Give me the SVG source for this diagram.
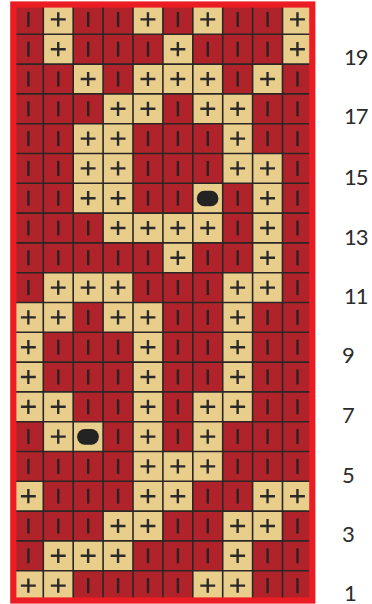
<svg xmlns="http://www.w3.org/2000/svg" xmlns:xlink="http://www.w3.org/1999/xlink" width="372" height="604" viewBox="0 0 372 604">
<style>
.lbl{font-family:Lato,"Open Sans","Liberation Sans",sans-serif;font-size:22px;fill:#2b2b2b;letter-spacing:-1px}
.grid{stroke:#2a2626;stroke-width:1.6;fill:none}
</style>
<defs>
<g id="K"><rect width="29.9" height="29.8" fill="#b0232a"/><rect x="13.8" y="7.4" width="2.4" height="15" fill="#2a2222"/></g>
<g id="P"><rect width="29.9" height="29.8" fill="#e9cd8b"/><path d="M7.5 14.9H22.4M14.95 7.8V22" stroke="#2a2a2a" stroke-width="2.4"/></g>
<g id="B"><rect width="29.9" height="29.8" fill="#e9cd8b"/><rect x="4" y="7.4" width="21.6" height="15.6" rx="7.5" fill="#232323"/></g>
</defs>
<rect width="372" height="604" fill="#ffffff"/>
<g id="cells">
<g id="row20" transform="translate(0,4.5)"><use href="#K" x="13.4"/><use href="#P" x="43.3"/><use href="#K" x="73.2"/><use href="#K" x="103.1"/><use href="#P" x="133"/><use href="#K" x="162.9"/><use href="#P" x="192.8"/><use href="#K" x="222.7"/><use href="#K" x="252.6"/><use href="#P" x="282.5"/></g>
<g id="row19" transform="translate(0,34.3)"><use href="#K" x="13.4"/><use href="#P" x="43.3"/><use href="#K" x="73.2"/><use href="#K" x="103.1"/><use href="#K" x="133"/><use href="#P" x="162.9"/><use href="#K" x="192.8"/><use href="#K" x="222.7"/><use href="#K" x="252.6"/><use href="#P" x="282.5"/></g>
<g id="row18" transform="translate(0,64.1)"><use href="#K" x="13.4"/><use href="#K" x="43.3"/><use href="#P" x="73.2"/><use href="#K" x="103.1"/><use href="#P" x="133"/><use href="#P" x="162.9"/><use href="#P" x="192.8"/><use href="#K" x="222.7"/><use href="#P" x="252.6"/><use href="#K" x="282.5"/></g>
<g id="row17" transform="translate(0,93.9)"><use href="#K" x="13.4"/><use href="#K" x="43.3"/><use href="#K" x="73.2"/><use href="#P" x="103.1"/><use href="#P" x="133"/><use href="#K" x="162.9"/><use href="#P" x="192.8"/><use href="#P" x="222.7"/><use href="#K" x="252.6"/><use href="#K" x="282.5"/></g>
<g id="row16" transform="translate(0,123.7)"><use href="#K" x="13.4"/><use href="#K" x="43.3"/><use href="#P" x="73.2"/><use href="#P" x="103.1"/><use href="#K" x="133"/><use href="#K" x="162.9"/><use href="#K" x="192.8"/><use href="#P" x="222.7"/><use href="#K" x="252.6"/><use href="#K" x="282.5"/></g>
<g id="row15" transform="translate(0,153.5)"><use href="#K" x="13.4"/><use href="#K" x="43.3"/><use href="#P" x="73.2"/><use href="#P" x="103.1"/><use href="#K" x="133"/><use href="#K" x="162.9"/><use href="#K" x="192.8"/><use href="#P" x="222.7"/><use href="#P" x="252.6"/><use href="#K" x="282.5"/></g>
<g id="row14" transform="translate(0,183.3)"><use href="#K" x="13.4"/><use href="#K" x="43.3"/><use href="#P" x="73.2"/><use href="#P" x="103.1"/><use href="#K" x="133"/><use href="#K" x="162.9"/><use href="#B" x="192.8"/><use href="#K" x="222.7"/><use href="#P" x="252.6"/><use href="#K" x="282.5"/></g>
<g id="row13" transform="translate(0,213.1)"><use href="#K" x="13.4"/><use href="#K" x="43.3"/><use href="#K" x="73.2"/><use href="#P" x="103.1"/><use href="#P" x="133"/><use href="#P" x="162.9"/><use href="#P" x="192.8"/><use href="#K" x="222.7"/><use href="#P" x="252.6"/><use href="#K" x="282.5"/></g>
<g id="row12" transform="translate(0,242.9)"><use href="#K" x="13.4"/><use href="#K" x="43.3"/><use href="#K" x="73.2"/><use href="#K" x="103.1"/><use href="#K" x="133"/><use href="#P" x="162.9"/><use href="#K" x="192.8"/><use href="#K" x="222.7"/><use href="#P" x="252.6"/><use href="#K" x="282.5"/></g>
<g id="row11" transform="translate(0,272.7)"><use href="#K" x="13.4"/><use href="#P" x="43.3"/><use href="#P" x="73.2"/><use href="#P" x="103.1"/><use href="#K" x="133"/><use href="#K" x="162.9"/><use href="#K" x="192.8"/><use href="#P" x="222.7"/><use href="#P" x="252.6"/><use href="#K" x="282.5"/></g>
<g id="row10" transform="translate(0,302.5)"><use href="#P" x="13.4"/><use href="#P" x="43.3"/><use href="#K" x="73.2"/><use href="#P" x="103.1"/><use href="#P" x="133"/><use href="#K" x="162.9"/><use href="#K" x="192.8"/><use href="#P" x="222.7"/><use href="#K" x="252.6"/><use href="#K" x="282.5"/></g>
<g id="row9" transform="translate(0,332.3)"><use href="#P" x="13.4"/><use href="#K" x="43.3"/><use href="#K" x="73.2"/><use href="#K" x="103.1"/><use href="#P" x="133"/><use href="#K" x="162.9"/><use href="#K" x="192.8"/><use href="#P" x="222.7"/><use href="#K" x="252.6"/><use href="#K" x="282.5"/></g>
<g id="row8" transform="translate(0,362.1)"><use href="#P" x="13.4"/><use href="#K" x="43.3"/><use href="#K" x="73.2"/><use href="#K" x="103.1"/><use href="#P" x="133"/><use href="#K" x="162.9"/><use href="#K" x="192.8"/><use href="#P" x="222.7"/><use href="#K" x="252.6"/><use href="#K" x="282.5"/></g>
<g id="row7" transform="translate(0,391.9)"><use href="#P" x="13.4"/><use href="#P" x="43.3"/><use href="#K" x="73.2"/><use href="#K" x="103.1"/><use href="#P" x="133"/><use href="#K" x="162.9"/><use href="#P" x="192.8"/><use href="#P" x="222.7"/><use href="#K" x="252.6"/><use href="#K" x="282.5"/></g>
<g id="row6" transform="translate(0,421.7)"><use href="#K" x="13.4"/><use href="#P" x="43.3"/><use href="#B" x="73.2"/><use href="#K" x="103.1"/><use href="#P" x="133"/><use href="#K" x="162.9"/><use href="#P" x="192.8"/><use href="#K" x="222.7"/><use href="#K" x="252.6"/><use href="#K" x="282.5"/></g>
<g id="row5" transform="translate(0,451.5)"><use href="#K" x="13.4"/><use href="#K" x="43.3"/><use href="#K" x="73.2"/><use href="#K" x="103.1"/><use href="#P" x="133"/><use href="#P" x="162.9"/><use href="#P" x="192.8"/><use href="#K" x="222.7"/><use href="#K" x="252.6"/><use href="#K" x="282.5"/></g>
<g id="row4" transform="translate(0,481.3)"><use href="#P" x="13.4"/><use href="#K" x="43.3"/><use href="#K" x="73.2"/><use href="#K" x="103.1"/><use href="#P" x="133"/><use href="#P" x="162.9"/><use href="#K" x="192.8"/><use href="#K" x="222.7"/><use href="#P" x="252.6"/><use href="#P" x="282.5"/></g>
<g id="row3" transform="translate(0,511.1)"><use href="#K" x="13.4"/><use href="#K" x="43.3"/><use href="#K" x="73.2"/><use href="#P" x="103.1"/><use href="#P" x="133"/><use href="#K" x="162.9"/><use href="#K" x="192.8"/><use href="#P" x="222.7"/><use href="#P" x="252.6"/><use href="#K" x="282.5"/></g>
<g id="row2" transform="translate(0,540.9)"><use href="#K" x="13.4"/><use href="#P" x="43.3"/><use href="#P" x="73.2"/><use href="#P" x="103.1"/><use href="#K" x="133"/><use href="#K" x="162.9"/><use href="#K" x="192.8"/><use href="#P" x="222.7"/><use href="#K" x="252.6"/><use href="#K" x="282.5"/></g>
<g id="row1" transform="translate(0,570.7)"><use href="#P" x="13.4"/><use href="#P" x="43.3"/><use href="#K" x="73.2"/><use href="#K" x="103.1"/><use href="#K" x="133"/><use href="#K" x="162.9"/><use href="#P" x="192.8"/><use href="#P" x="222.7"/><use href="#K" x="252.6"/><use href="#K" x="282.5"/></g>
</g>
<path class="grid" d="M43.3 4.5V600.5M73.2 4.5V600.5M103.1 4.5V600.5M133 4.5V600.5M162.9 4.5V600.5M192.8 4.5V600.5M222.7 4.5V600.5M252.6 4.5V600.5M282.5 4.5V600.5M13.4 34.3H312.4M13.4 64.1H312.4M13.4 93.9H312.4M13.4 123.7H312.4M13.4 153.5H312.4M13.4 183.3H312.4M13.4 213.1H312.4M13.4 242.9H312.4M13.4 272.7H312.4M13.4 302.5H312.4M13.4 332.3H312.4M13.4 362.1H312.4M13.4 391.9H312.4M13.4 421.7H312.4M13.4 451.5H312.4M13.4 481.3H312.4M13.4 511.1H312.4M13.4 540.9H312.4M13.4 570.7H312.4"/>
<rect id="border" x="13.3" y="4.5" width="299" height="596" fill="none" stroke="#ec1c24" stroke-width="6.2"/>
<g id="labels">
<text class="lbl" x="344" y="65">19</text>
<text class="lbl" x="344" y="124">17</text>
<text class="lbl" x="344" y="184.5">15</text>
<text class="lbl" x="344" y="244.5">13</text>
<text class="lbl" x="344" y="303.5">11</text>
<text class="lbl" x="342" y="363">9</text>
<text class="lbl" x="342" y="423">7</text>
<text class="lbl" x="342" y="482.5">5</text>
<text class="lbl" x="342" y="542">3</text>
<text class="lbl" x="344" y="600.5">1</text>
</g>
</svg>
